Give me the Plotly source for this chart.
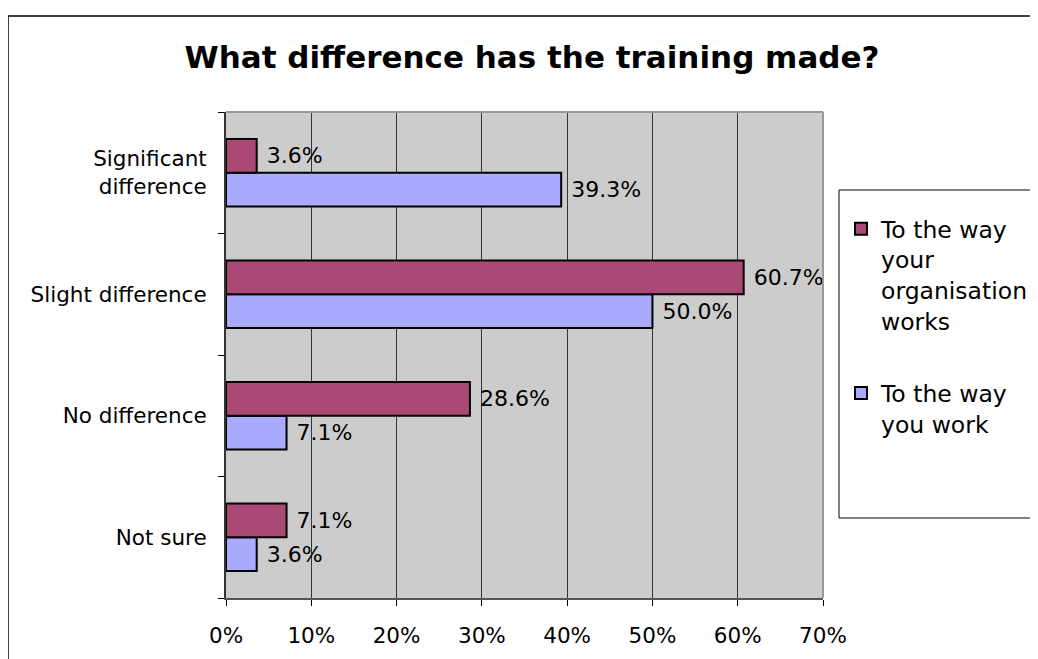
import plotly.graph_objects as go

categories = ["Significant<br>difference", "Slight difference", "No difference", "Not sure"]
org_works = [3.6, 60.7, 28.6, 7.1]
you_work = [39.3, 50.0, 7.1, 3.6]
series_names = ["To the way<br>your<br>organisation<br>works", "To the way<br>you work"]
x_tickvals = [0, 10, 20, 30, 40, 50, 60, 70]
x_ticktext = ["0%", "10%", "20%", "30%", "40%", "50%", "60%", "70%"]

# page coordinates (the html body adds an 8px offset)
OFF = 8
PAGE_W, PAGE_H = 1038, 659
L, R, T, B = 226, 823, 112, 598  # plot area in page pixels
FONT = "Verdana, DejaVu Sans, sans-serif"


def px_x(p):
    return (p - L) / (R - L)


def px_y(p):
    return (B - p) / (B - T)


fig = go.Figure()

# lavender first so it sits below the maroon bar in each group
fig.add_trace(go.Bar(
    y=categories, x=you_work, orientation="h", name=series_names[1],
    legendgroup="you", legendrank=2,
    marker=dict(color="#AAAAFF", line=dict(color="#000000", width=2)),
    texttemplate=" %{x:.1f}%", textposition="outside",
    textfont=dict(size=22, color="#000000", family=FONT),
    cliponaxis=False, constraintext="none",
))
fig.add_trace(go.Bar(
    y=categories, x=org_works, orientation="h", name=series_names[0],
    legendgroup="org", legendrank=1,
    marker=dict(color="#AA4876", line=dict(color="#000000", width=2)),
    texttemplate=" %{x:.1f}%", textposition="outside",
    textfont=dict(size=22, color="#000000", family=FONT),
    cliponaxis=False, constraintext="none",
))

shapes = [
    # outer chart border (left + top, runs off the page)
    dict(type="line", xref="paper", yref="paper", x0=px_x(8), x1=px_x(8), y0=px_y(16), y1=px_y(700),
         line=dict(color="#000000", width=1.5)),
    dict(type="line", xref="paper", yref="paper", x0=px_x(8), x1=px_x(1100), y0=px_y(16), y1=px_y(16),
         line=dict(color="#000000", width=1.5)),
    # plot area top/right border
    dict(type="line", xref="paper", yref="paper", x0=0, x1=1, y0=1, y1=1,
         line=dict(color="#999999", width=2)),
    dict(type="line", xref="paper", yref="paper", x0=1, x1=1, y0=0, y1=1,
         line=dict(color="#999999", width=2)),
    # legend box
    dict(type="rect", xref="paper", yref="paper", x0=px_x(839), x1=px_x(1100), y0=px_y(518), y1=px_y(190),
         line=dict(color="#000000", width=1)),
]

fig_w, fig_h = PAGE_W - OFF, PAGE_H - OFF

fig.update_layout(
    width=fig_w, height=fig_h,
    margin=dict(l=L - OFF, r=PAGE_W - R, t=T - OFF, b=PAGE_H - B, autoexpand=False),
    paper_bgcolor="#FFFFFF",
    plot_bgcolor="#CCCCCC",
    font=dict(family=FONT, size=21.5, color="#000000"),
    barmode="group",
    bargap=0.445,
    bargroupgap=0,
    title=dict(
        text="<b>What difference has the training made?</b>",
        x=(532 - OFF) / fig_w, xanchor="center", y=1 - (57 - OFF) / fig_h, yanchor="middle",
        font=dict(size=31, family=FONT, color="#000000"),
    ),
    xaxis=dict(
        range=[0, 70], tickvals=x_tickvals, ticktext=x_ticktext,
        showgrid=True, gridcolor="#333333", gridwidth=1, zeroline=False,
        showline=True, linecolor="#555555", linewidth=2,
        ticks="outside", ticklen=6, tickcolor="#000000",
        ticklabelstandoff=11, tickfont=dict(size=21.5),
    ),
    yaxis=dict(
        categoryorder="array", categoryarray=categories[::-1],
        showgrid=False, zeroline=False,
        showline=True, linecolor="#333333", linewidth=2,
        ticks="outside", ticklen=6, tickcolor="#000000", tickson="boundaries",
        ticklabelstandoff=13, tickfont=dict(size=21.5),
    ),
    legend=dict(
        x=px_x(841), xanchor="left", y=px_y(207), yanchor="top",
        traceorder="grouped", tracegroupgap=39, valign="top",
        bgcolor="rgba(0,0,0,0)", borderwidth=0,
        font=dict(size=23.5, family=FONT),
    ),
    shapes=shapes,
)

fig.write_html("out.html")
